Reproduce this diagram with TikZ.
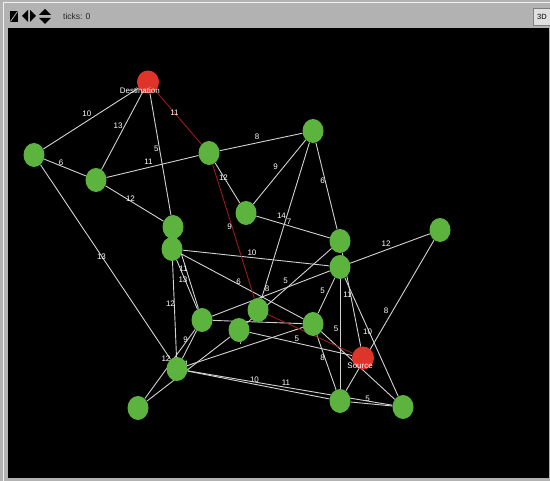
\documentclass[tikz,border=0pt]{standalone}
\usepackage{fontspec}
\setmainfont{Liberation Sans}
\usetikzlibrary{calc, shapes.geometric}

\definecolor{turtlegreen}{RGB}{92,180,62}
\definecolor{turtlered}{RGB}{222,52,42}
\definecolor{linkgray}{RGB}{210,210,210}
\definecolor{linkred}{RGB}{150,28,28}
\definecolor{chrome}{RGB}{178,178,178}

\pgfdeclarelayer{back}
\pgfdeclarelayer{links}
\pgfsetlayers{back,links,main}

\tikzset{
  turtle/.style={ellipse, fill=turtlegreen, minimum width=21pt, minimum height=24pt, inner sep=0pt},
  endpoint/.style={turtle, fill=turtlered, minimum width=22pt, minimum height=23pt},
  link/.style={draw=linkgray, line width=0.9pt},
  redlink/.style={draw=linkred, line width=0.9pt},
  wt/.style={text=white, font=\fontsize{8}{9}\selectfont, inner sep=0pt, xshift=-4pt, yshift=5pt},
  tag/.style={text=white, font=\fontsize{8}{9}\selectfont, inner sep=0pt, anchor=base east},
}

\begin{document}
\begin{tikzpicture}[x=1pt, y=-1pt]
\useasboundingbox (0,0) rectangle (550,481);

\begin{pgfonlayer}{back}
  \fill[chrome] (0,0) rectangle (550,481);
  \draw[white!80!chrome, line width=1pt] (3,481) -- (3,3) -- (550,3);
  \fill[black] (8,28) rectangle (549,478);
  \fill[black] (10,11) rectangle (18,22);
  \draw[chrome, line width=0.8pt] (17.5,11.5) -- (10.5,21.5);
  \fill[black] (22,16) -- (28,10) -- (28,22) -- cycle;
  \fill[black] (30,10) -- (36,16) -- (30,22) -- cycle;
  \fill[black] (39,15) -- (45,9) -- (51,15) -- cycle;
  \fill[black] (39,18) -- (51,18) -- (45,24) -- cycle;
\end{pgfonlayer}

\node[anchor=base west, inner sep=0pt, text=black!85, font=\fontsize{8.5}{10}\selectfont] (ticks) at (63,20) {ticks: 0};
\node[draw=gray, fill=black!12, minimum width=17pt, minimum height=17pt, inner sep=0pt, font=\fontsize{7.5}{8}\selectfont] (view3d) at (542,17) {3D};

\node[endpoint] (dst) at (148,82) {};
\node[turtle] (n1) at (34,155) {};
\node[turtle] (n2) at (96,180) {};
\node[turtle] (n3) at (209,153) {};
\node[turtle] (n4) at (313,131) {};
\node[turtle] (n5) at (246,213) {};
\node[turtle] (n6) at (173,227) {};
\node[turtle] (n7) at (172,249) {};
\node[turtle] (n8) at (340,241) {};
\node[turtle] (n9) at (440,230) {};
\node[turtle] (n10) at (340,267) {};
\node[turtle] (n11) at (202,320) {};
\node[turtle] (n12) at (258,310) {};
\node[turtle] (n13) at (239,330) {};
\node[turtle] (n14) at (313,324) {};
\node[endpoint] (src) at (363,358) {};
\node[turtle] (n15) at (177,369) {};
\node[turtle] (n16) at (138,408) {};
\node[turtle] (n17) at (340,401) {};
\node[turtle] (n18) at (403,407) {};

\node[tag] (dstlab) at ($(dst)+(12,12)$) {Destination};
\node[tag] (srclab) at ($(src)+(10,11)$) {Source};

\begin{pgfonlayer}{links}
  \path[link] (dst) -- node[wt] {10} (n1);
  \path[link] (dst) -- node[wt] {13} (n2);
  \path[link] (dst) -- node[wt] {5} (n6);
  \path[link] (n1) -- node[wt] {6} (n2);
  \path[link] (n2) -- node[wt] {11} (n3);
  \path[link] (n3) -- node[wt] {8} (n4);
  \path[link] (n2) -- node[wt] {12} (n6);
  \path[link] (n3) -- node[wt] {12} (n5);
  \path[link] (n4) -- node[wt] {9} (n5);
  \path[link] (n4) -- node[wt] {6} (n8);
  \path[link] (n4) -- node[wt] {14} (n12);
  \path[link] (n5) -- node[wt] {7} (n8);
  \path[link] (n7) -- node[wt] {10} (n10);
  \path[link] (n10) -- node[wt] {12} (n9);
  \path[link] (n1) -- node[wt] {13} (n15);
  \path[link] (n6) -- node[wt] {11} (n11);
  \path[link] (n7) -- node[wt] {13} (n11);
  \path[link] (n7) -- node[wt] {6} (n14);
  \path[link] (n10) -- node[wt] {8} (n11);
  \path[link] (n8) -- node[wt] {5} (n13);
  \path[link] (n10) -- node[wt] {5} (n14);
  \path[link] (n8) -- node[wt] {11} (src);
  \path[link] (n7) -- node[wt] {12} (n15);
  \path[link] (n9) -- node[wt] {8} (n17);
  \path[link] (n10) -- node[wt] {5} (n17);
  \path[link] (n10) -- node[wt] {10} (n18);
  \path[link] (n11) -- node[wt] {9} (n15);
  \path[link] (n13) -- node[wt] {5} (src);
  \path[link] (n15) -- node[wt] {7} (n14);
  \path[link] (n16) -- node[wt] {12} (n11);
  \path[link] (n14) -- node[wt] {8} (n17);
  \path[link] (n16) -- node[wt] {11} (n13);
  \path[link] (n15) -- node[wt] {10} (n17);
  \path[link] (n15) -- node[wt] {11} (n18);
  \path[link] (n17) -- node[wt] {5} (n18);
  \path[link] (n11) -- (n14);
  \path[link] (n14) -- (n18);
  \path[redlink] (dst) -- node[wt] {11} (n3);
  \path[redlink] (n3) -- node[wt] {9} (n12);
  \path[redlink] (n12) -- (src);
\end{pgfonlayer}
\end{tikzpicture}
\end{document}
